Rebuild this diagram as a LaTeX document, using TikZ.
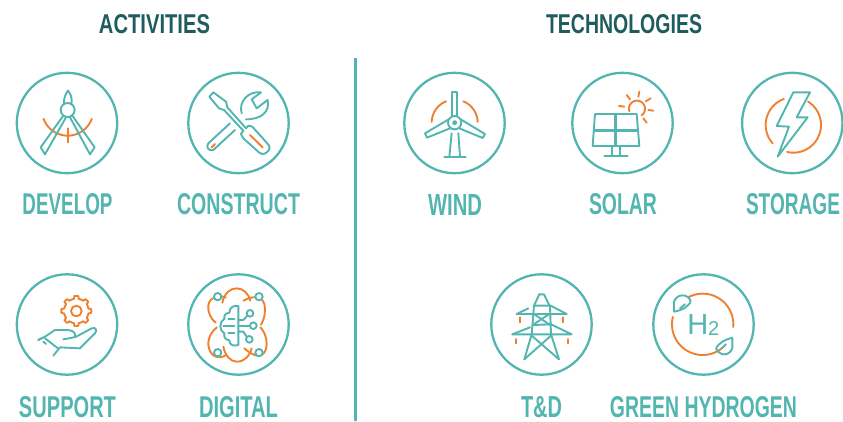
\documentclass[tikz,border=0pt]{standalone}
\usepackage{fontspec}
\usepackage{graphicx}
\setmainfont{Liberation Sans}
\definecolor{teal1}{HTML}{52B5B0}
\definecolor{dark1}{HTML}{1F5C5E}
\definecolor{orange1}{HTML}{EF8030}
\newcommand\lbl[5]{\node[inner sep=0pt,text=teal1] (#1) at (#2,#3) {\resizebox{#4pt}{21pt}{\bfseries #5}};}
\newcommand\hd[5]{\node[inner sep=0pt,text=dark1] (#1) at (#2,#3) {\resizebox{#4pt}{19pt}{\bfseries #5}};}
% centre x, centre y, radius, from, to (angles read as on the page)
\newcommand\parc[5]{plot[domain=#4:#5,samples=40,smooth] ({#1+#3*cos(\x)},{#2-#3*sin(\x)})}
\tikzset{
  ring/.style={draw=teal1,line width=2.3pt},
  tl/.style={draw=teal1,line width=1.9pt,line join=round,line cap=round},
  ol/.style={draw=orange1,line width=1.9pt,line join=round,line cap=round},
  zoomA/.style={shift={(0,60)},scale=1/3},
  zoomB/.style={shift={(0,260)},scale=1/3},
  zoomC/.style={shift={(395,60)},scale=1/3},
  zoomD/.style={shift={(640,60)},scale=1/3},
  zoomE/.style={shift={(480,265)},scale=1/3},
  zoomF/.style={shift={(195,280)},scale=1/3},
}
\begin{document}
\begin{tikzpicture}[x=1pt,y=-1pt]
\useasboundingbox (0,0) rectangle (843,421);
\hd{act}{154.5}{24}{111}{ACTIVITIES}
\hd{tech}{624}{24}{156}{TECHNOLOGIES}
\draw[teal1,line width=2.4pt] (355.5,58) -- (355.5,421);
% rings
\foreach \cx/\cy in {67/123,238.5/123,67/324.5,238.5/324.5,454.5/123,622.5/123,792.3/123,541.5/324.5,703.5/324.5}
  \draw[ring] (\cx,\cy) circle[radius=50.2];
% labels
\lbl{l1}{67.5}{204.5}{90}{DEVELOP}
\lbl{l2}{238.5}{204.5}{123}{CONSTRUCT}
\lbl{l3}{67.5}{407}{97}{SUPPORT}
\lbl{l4}{238.5}{407}{79}{DIGITAL}
\lbl{l5}{455}{204.5}{54}{WIND}
\lbl{l6}{623}{204.5}{68}{SOLAR}
\lbl{l7}{793}{204.5}{94}{STORAGE}
\lbl{l8}{541.5}{407}{41}{T\&D}
\lbl{l9}{703.5}{407}{187}{GREEN HYDROGEN}
% develop
\begin{scope}[zoomA]
 \draw[ol] \parc{203}{150}{77}{-160}{-20};
 \draw[ol] (203,205) -- (203,247);
 \draw[tl] (203,150) circle[radius=21];
 \draw[tl] (192,132) .. controls (190,115) and (198,100) .. (204,92) .. controls (211,100) and (218,115) .. (214,132);
 \draw[tl] (190,167) -- (122,262) -- (135,283) -- (198,172);
 \draw[tl] (217,167) -- (284,262) -- (270,283) -- (210,172);
 % construct
 \draw[tl] (640,97) -- (628,110) -- (657,145) -- (672,150) -- (730,212) -- (723,222) -- (730,235) -- (778,278) .. controls (790,287) and (800,280) .. (808,268) .. controls (810,258) and (805,252) .. (800,248) -- (757,200) -- (745,197) -- (738,205) -- (682,142) -- (678,125) -- cycle;
 \draw[ol] (750,225) -- (788,262);
 \draw[tl] (690,190) -- (625,250) .. controls (617,260) and (625,275) .. (640,270) -- (705,210);
 \draw[ol] (635,262) -- (645,252);
 \draw[tl] (725,160) .. controls (715,125) and (745,92) .. (783,97) -- (755,118) -- (770,145) -- (803,120) .. controls (810,155) and (785,178) .. (738,178);
\end{scope}
% support
\begin{scope}[zoomB]
 \draw[ol] (229,153) circle[radius=16];
 \draw[ol] plot[domain=0:360,samples=97,sharp plot] ({229+(37+8*(cos(8*\x)>0.0))*cos(\x+0)},{153+(37+8*(cos(8*\x)>0.0))*sin(\x+0)}) -- cycle;
 \draw[tl] (115,240) -- (135,230) -- (165,210) -- (205,210) .. controls (225,212) and (230,225) .. (222,232) -- (190,238);
 \draw[tl] (225,232) -- (275,205) .. controls (288,200) and (292,212) .. (285,220) -- (240,265) -- (180,262) -- (160,287);
 \draw[tl] (135,235) -- (175,266);
 \draw[tl] (115,240) -- (125,235);
 \draw[tl] (130,245) -- (138,252);
\end{scope}
% digital
\begin{scope}[zoomF]
 \draw[ol] (82,68) .. controls (88,40) and (105,25) .. (125,25) .. controls (145,25) and (160,40) .. (166,62);
 \draw[ol] (92,52) .. controls (70,45) and (45,50) .. (40,75) .. controls (37,95) and (48,118) .. (62,128);
 \draw[ol] (145,62) .. controls (170,48) and (200,45) .. (208,72) .. controls (213,95) and (208,118) .. (198,134);
 \draw[ol] (66,142) .. controls (48,155) and (35,180) .. (42,205) .. controls (50,232) and (72,238) .. (92,226);
 \draw[ol] (85,200) .. controls (90,225) and (105,245) .. (125,245) .. controls (148,245) and (165,228) .. (170,205);
 \draw[ol] (148,205) .. controls (170,225) and (200,240) .. (212,210) .. controls (220,185) and (210,155) .. (196,142);
 \foreach \p in {(68,50),(192,50),(68,218),(192,218)}{
   \fill[white] \p circle[radius=13];
   \draw[tl] \p circle[radius=11];}
 \draw[tl] (130,78) -- (130,195) .. controls (118,198) and (103,198) .. (103,181) .. controls (90,178) and (86,172) .. (88,160) .. controls (72,152) and (72,125) .. (88,117) .. controls (86,105) and (92,100) .. (103,98) .. controls (103,80) and (118,76) .. (130,78);
 \draw[tl] (130,120) -- (145,120) -- (157,107);
 \draw[tl] (130,137) -- (165,137);
 \draw[tl] (130,155) -- (145,155) -- (155,170);
 \draw[tl] (100,118) -- (118,118) (85,137) -- (118,137) (100,158) -- (118,158);
 \foreach \p in {(165,100),(175,137),(163,178)}
   \draw[tl] \p circle[radius=10];
\end{scope}
% wind, solar
\begin{scope}[zoomC]
 \draw[ol] \parc{179}{188}{69}{112}{178};
 \draw[ol] \parc{179}{188}{69}{2}{68};
 \draw[tl] (148,290) -- (212,290);
 \draw[tl] (170,220) -- (163,290) (190,220) -- (195,290);
 \draw[tl] (179,188) circle[radius=20] (179,188) circle[radius=5];
 \draw[tl] (172,168) -- (172,97) -- (187,97) -- (187,168);
 \draw[tl] (197,178) -- (270,222) -- (263,234) -- (193,205);
 \draw[tl] (161,178) -- (90,220) -- (96,233) -- (165,205);
 \draw[tl] (600,162) -- (725,162) -- (733,258) -- (593,258) -- cycle;
 \draw[teal1,line width=2.8pt] (597,211) -- (729,211);
 \draw[teal1,line width=2.4pt] (662,162) -- (662,258);
 \draw[tl] (650,258) -- (650,288) (674,258) -- (674,288) (628,289) -- (698,289);
 \draw[ol] \parc{726}{146}{24}{-55}{200};
 \draw[ol] (695,105) -- (705,118) (733,95) -- (730,110) (767,115) -- (752,124) (775,152) -- (760,150) (755,188) -- (745,175) (688,140) -- (672,138);
\end{scope}
% storage
\begin{scope}[zoomD]
 \draw[ol] \parc{460}{195}{83}{110}{222};
 \draw[ol] \parc{460}{195}{83}{-103}{58};
 \draw[tl] (460,97) -- (510,97) -- (470,172) -- (503,172) -- (413,290) -- (447,200) -- (410,198) -- cycle;
\end{scope}
% T&D, H2
\begin{scope}[zoomE]
 \draw[tl] (178,88) -- (192,88) -- (210,125) -- (213,208) -- (237,283);
 \draw[tl] (178,88) -- (162,122) -- (155,208) -- (133,283);
 \draw[tl] (110,147) -- (260,147) -- (212,122) -- (162,122);
 \draw[tl] (110,147) -- (145,130);
 \draw[tl] (97,208) -- (275,208) -- (213,178) -- (158,180);
 \draw[tl] (97,208) -- (150,187);
 \draw[tl] (162,147) -- (210,180) (208,147) -- (158,180);
 \draw[tl] (155,212) -- (237,283) (213,212) -- (133,283);
 \draw[ol] (120,157) -- (120,172) (250,157) -- (250,172) (108,222) -- (108,235) (263,222) -- (263,235);
 \draw[ol] \parc{668}{178}{92}{-5}{118};
 \draw[ol] \parc{668}{178}{92}{-50}{-194};
 \draw[tl] (582,140) -- (582,110) .. controls (590,90) and (605,90) .. (615,92) .. controls (635,100) and (635,112) .. (625,120) .. controls (610,135) and (595,137) .. (582,140);
 \draw[tl] (600,130) -- (615,118);
 \draw[tl] (757,218) -- (757,250) .. controls (750,268) and (735,270) .. (725,267) .. controls (705,255) and (705,250) .. (715,240) .. controls (730,225) and (745,222) .. (757,218);
 \draw[tl] (725,250) -- (738,238);
 \node[inner sep=0pt,text=teal1,anchor=center] (h2) at (670,180) {\fontsize{29pt}{29pt}\selectfont H\raisebox{-1pt}{\fontsize{20pt}{20pt}\selectfont 2}};
\end{scope}
\end{tikzpicture}
\end{document}
